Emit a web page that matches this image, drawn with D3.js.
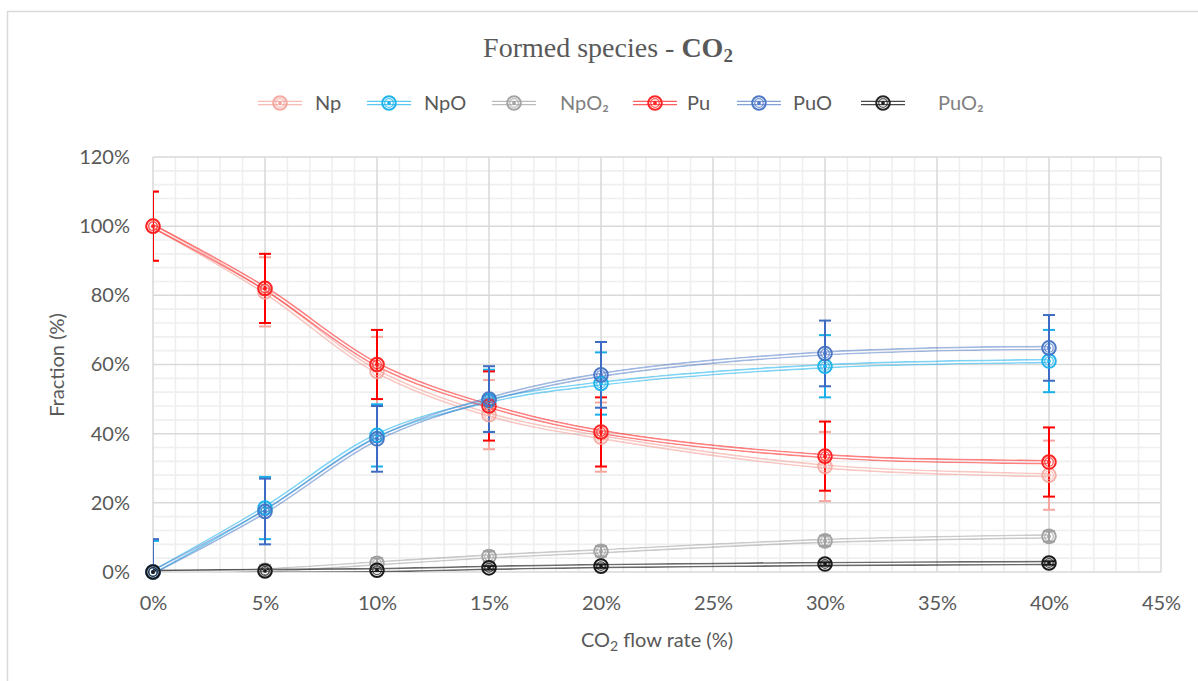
<!DOCTYPE html>
<html><head><meta charset="utf-8">
<script src="https://cdn.jsdelivr.net/npm/d3@7"></script>
<style>body{margin:0;background:#fff}svg{display:block}</style>
</head><body><svg id="c" width="1198" height="681"></svg>
<script>
// ---------- data ----------
const flowRates = [0, 5, 10, 15, 20, 30, 40];
const seriesNames = ["Np", "NpO", "NpO₂", "Pu", "PuO", "PuO₂"];
const npValues   = [100, 81, 58, 45.5, 39, 30.5, 28];
const npoValues  = [0, 18.5, 39.5, 49.5, 54.5, 59.5, 61];
const npo2Values = [0, 0.5, 2.5, 4.5, 6, 9, 10.3];
const puValues   = [100, 82, 60, 48, 40.5, 33.5, 31.8];
const puoValues  = [0, 17.5, 38.5, 50, 57, 63.2, 64.8];
const puo2Values = [0, 0.3, 0.5, 1.2, 1.7, 2.3, 2.6];
const npErr   = [10, 10, 10, 10, 10, 10, 10];
const npoErr  = [9, 9, 9, 9, 9, 9, 9];
const npo2Err = [1.5, 1.5, 1.5, 1.5, 1.5, 1.5, 1.5];
const puErr   = [10, 10, 10, 10, 10, 10, 10];
const puoErr  = [9.5, 9.5, 9.5, 9.5, 9.5, 9.5, 9.5];
const puo2Err = [0.5, 0.5, 0.5, 0.5, 0.5, 0.5, 0.5];
const xTicks = [0, 5, 10, 15, 20, 25, 30, 35, 40, 45];
const yTicks = [0, 20, 40, 60, 80, 100, 120];
const titleText = "Formed species - ";
const xTitle = "flow rate (%)";
const yTitle = "Fraction (%)";

// ---------- styles ----------
const styles = [
  {color:"#f5a39b", lineOp:0.6, errColor:"#f7a79f", textColor:"#595959", mOp:0.85},
  {color:"#16b1ec", lineOp:0.55, errColor:"#17b0ec", textColor:"#595959", mOp:0.95},
  {color:"#a0a0a0", lineOp:0.55, errColor:"#a0a0a0", textColor:"#808080", mOp:0.95},
  {color:"#ff1a1a", lineOp:0.55, errColor:"#ff0000", textColor:"#595959", mOp:0.95},
  {color:"#4472c4", lineOp:0.5, errColor:"#3d6cc2", textColor:"#595959", mOp:0.95},
  {color:"#1a1a1a", lineOp:0.65, errColor:"#1a1a1a", textColor:"#808080", mOp:1}
];
const allValues = [npValues, npoValues, npo2Values, puValues, puoValues, puo2Values];
const allErr = [npErr, npoErr, npo2Err, puErr, puoErr, puo2Err];
const series = seriesNames.map((n,i)=>({name:n, values:allValues[i], err:allErr[i], st:styles[i], i}));

const W = 1198, H = 681;
const svg = d3.select("#c");
const font = "Lato, 'Open Sans', sans-serif";

const x = d3.scaleLinear().domain([0,45]).range([153,1161]);
const y = d3.scaleLinear().domain([0,120]).range([572,157]);

// outer frame
svg.append("rect").attr("x",7.5).attr("y",11.5).attr("width",1220).attr("height",720)
  .attr("fill","#fff").attr("stroke","#d9d9d9").attr("stroke-width",1.5);

const defs = svg.append("defs");
defs.append("clipPath").attr("id","plotclip").append("rect")
  .attr("x",x(0)).attr("y",y(120)).attr("width",x(45)-x(0)).attr("height",y(0)-y(120));

// grid
const grid = svg.append("g");
const minorX = d3.range(0,46,1).filter(v=>v%5!==0);
const minorY = d3.range(0,121,4).filter(v=>v%20!==0);
grid.selectAll(".mx").data(minorX).join("line")
  .attr("x1",d=>x(d)).attr("x2",d=>x(d)).attr("y1",y(0)).attr("y2",y(120))
  .attr("stroke","#efefef").attr("stroke-width",1.6);
grid.selectAll(".my").data(minorY).join("line")
  .attr("x1",x(0)).attr("x2",x(45)).attr("y1",d=>y(d)).attr("y2",d=>y(d))
  .attr("stroke","#efefef").attr("stroke-width",1.6);
grid.selectAll(".Mx").data(xTicks).join("line")
  .attr("x1",d=>x(d)).attr("x2",d=>x(d)).attr("y1",y(0)).attr("y2",y(120))
  .attr("stroke","#d9d9d9").attr("stroke-width",1.5);
grid.selectAll(".My").data(yTicks).join("line")
  .attr("x1",x(0)).attr("x2",x(45)).attr("y1",d=>y(d)).attr("y2",d=>y(d))
  .attr("stroke","#d9d9d9").attr("stroke-width",1.5);

// axes labels
const ax = svg.append("g").attr("transform",`translate(0,${y(0)})`)
  .call(d3.axisBottom(x).tickValues(xTicks).tickFormat(d=>d+"%").tickSize(0).tickPadding(24));
const ay = svg.append("g").attr("transform",`translate(${x(0)},0)`)
  .call(d3.axisLeft(y).tickValues(yTicks).tickFormat(d=>d+"%").tickSize(0).tickPadding(23));
[ax,ay].forEach(a=>{a.select(".domain").remove();
  a.selectAll("text").attr("font-family",font).attr("font-size",20).attr("fill","#595959");});

// line generator
const line = d3.line().x((d,k)=>x(flowRates[k])).y(d=>y(d)).curve(d3.curveCatmullRom.alpha(0.5));

const lines = svg.append("g").attr("clip-path","url(#plotclip)");
series.forEach(s=>{
  const d = line(s.values);
  const m = defs.append("mask").attr("id","mk"+s.i).attr("maskUnits","userSpaceOnUse")
    .attr("x",0).attr("y",0).attr("width",W).attr("height",H);
  m.append("path").attr("d",d).attr("fill","none").attr("stroke","#fff").attr("stroke-width",4.8);
  m.append("path").attr("d",d).attr("fill","none").attr("stroke","#000").attr("stroke-width",1.5);
  lines.append("path").attr("d",d).attr("fill","none").attr("stroke",s.st.color)
    .attr("stroke-opacity",s.st.lineOp).attr("stroke-width",4.8).attr("mask",`url(#mk${s.i})`);
});

// error bars
const errs = svg.append("g").attr("clip-path","url(#plotclip)");
series.forEach(s=>{
  const g = errs.append("g").attr("stroke",s.st.errColor).attr("stroke-width",2);
  s.values.forEach((v,k)=>{
    const cx = x(flowRates[k]), e = s.err[k];
    g.append("line").attr("x1",cx).attr("x2",cx).attr("y1",y(v-e)).attr("y2",y(v+e));
    [v-e, v+e].forEach(t=>g.append("line").attr("x1",cx-6).attr("x2",cx+6).attr("y1",y(t)).attr("y2",y(t)));
  });
});

// markers
function marker(g, cx, cy, st, op){
  const mg = g.append("g").attr("opacity",op);
  mg.append("circle").attr("cx",cx).attr("cy",cy).attr("r",6.8).attr("fill","none")
    .attr("stroke",st.color).attr("stroke-width",2);
  mg.append("circle").attr("cx",cx).attr("cy",cy).attr("r",4.3).attr("fill","none")
    .attr("stroke",st.color).attr("stroke-width",1.3).attr("stroke-opacity",0.75);
  mg.append("circle").attr("cx",cx).attr("cy",cy).attr("r",1.9).attr("fill",st.color);
}
const marks = svg.append("g");
series.forEach(s=>{
  s.values.forEach((v,k)=>marker(marks, x(flowRates[k]), y(v), s.st, s.st.mOp));
});

// legend
const legendX = [258, 367, 492, 633, 737, 861];
const legendTextX = [315, 424, 560, 687, 793, 938];
const ly = 103;
const leg = svg.append("g");
series.forEach((s,i)=>{
  const x0 = legendX[i], x1 = x0+44;
  [-1.6,1.6].forEach(o=>leg.append("line").attr("x1",x0).attr("x2",x1).attr("y1",ly+o).attr("y2",ly+o)
    .attr("stroke",s.st.color).attr("stroke-opacity",s.st.lineOp+0.15).attr("stroke-width",1.4));
  marker(leg, (x0+x1)/2, ly, s.st, 0.95);
  leg.append("text").attr("x",legendTextX[i]).attr("y",ly+7).attr("font-family",font)
    .attr("font-size",20).attr("fill",s.st.textColor).text(s.name);
});

// title
const t = svg.append("text").attr("x",608).attr("y",57).attr("text-anchor","middle")
  .attr("font-family","'Liberation Serif', serif").attr("font-size",28).attr("fill","#595959");
t.append("tspan").text(titleText);
t.append("tspan").attr("font-weight","bold").text("CO");
t.append("tspan").attr("font-weight","bold").attr("font-size",19).attr("dy",5).text("2");

// x title
const xt = svg.append("text").attr("x",657).attr("y",647).attr("text-anchor","middle")
  .attr("font-family",font).attr("font-size",20).attr("fill","#595959");
xt.append("tspan").text("CO");
xt.append("tspan").attr("font-size",14).attr("dy",4).text("2");
xt.append("tspan").attr("dy",-4).text(" "+xTitle);

// y title
svg.append("text").attr("transform","translate(64,365) rotate(-90)").attr("text-anchor","middle")
  .attr("font-family",font).attr("font-size",20).attr("fill","#595959").text(yTitle);
</script></body></html>
